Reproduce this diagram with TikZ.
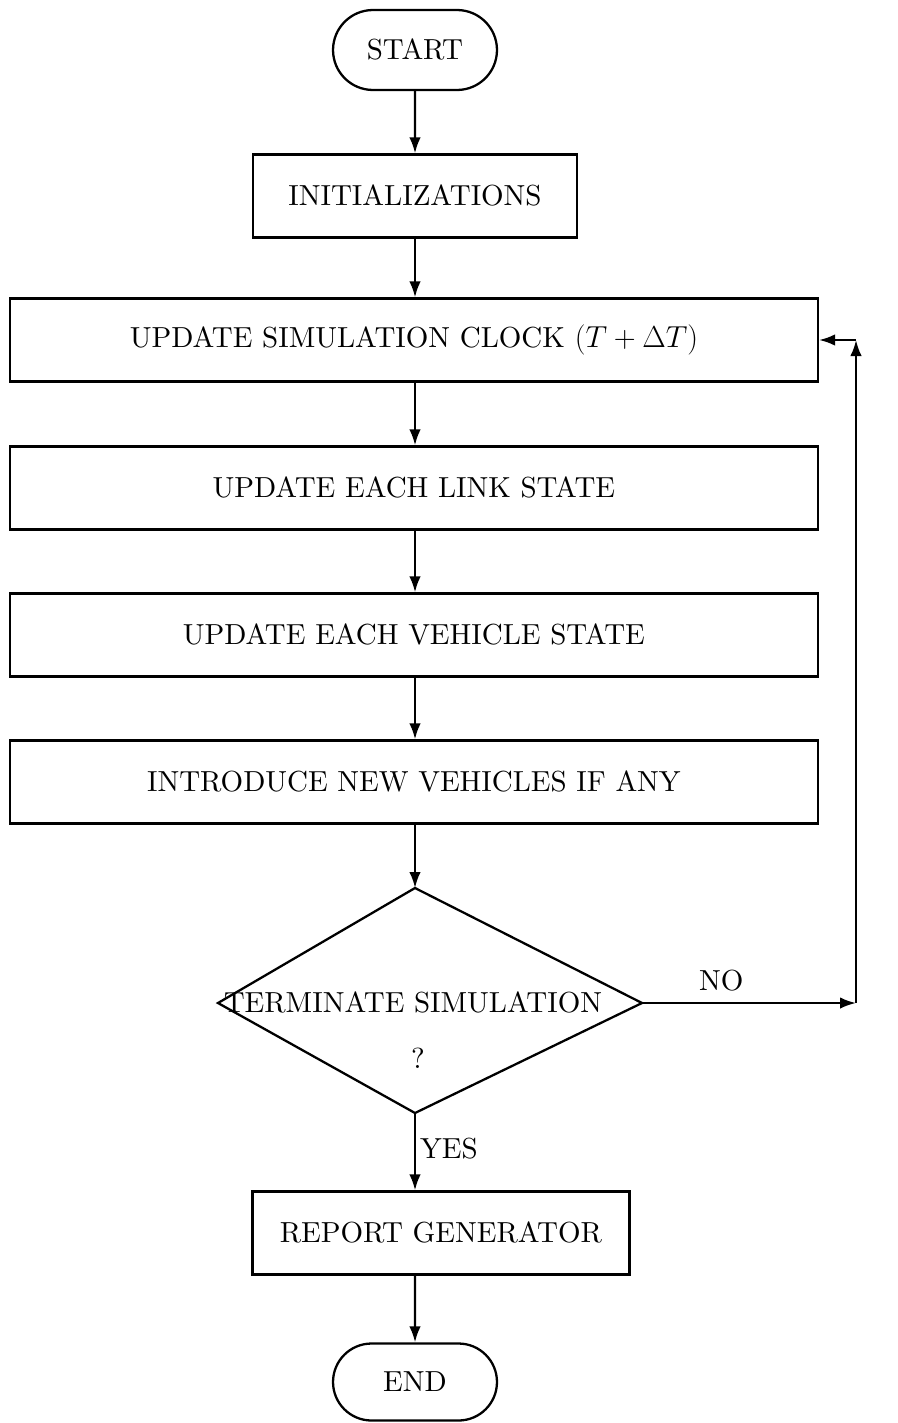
\documentclass[tikz,border=0pt]{standalone}
\usepackage{tikz}
\usetikzlibrary{arrows.meta}
\usetikzlibrary{shapes.misc}

\font\flowrm=cmr10 at 16.5pt

\begin{document}
\begin{tikzpicture}[x=0.02cm,y=-0.02cm,
    font=\fontsize{16.5}{20}\selectfont\flowrm,
    line width=1.3pt,
    flow/.style={-{Latex[length=3.2mm,width=2.3mm]}},
    termbox/.style={draw,line width=1.3pt,rounded rectangle,inner sep=0pt,minimum width=3.28cm,minimum height=1.6cm},
    procbox/.style={draw,line width=1.3pt,rectangle,inner sep=0pt,minimum height=1.66cm}]
    \useasboundingbox (0,0) rectangle (897,1423);
    % blocks of the flow chart
    \node[termbox] (start) at (415,50) {START};
    \node[procbox,minimum width=6.48cm] (init) at (415,196) {INITIALIZATIONS};
    \node[procbox,minimum width=16.16cm] (clock) at (414,340) {UPDATE SIMULATION CLOCK $(T+\Delta T)$};
    \node[procbox,minimum width=16.16cm] (link) at (414,488) {UPDATE EACH LINK STATE};
    \node[procbox,minimum width=16.16cm] (veh) at (414,635) {UPDATE EACH VEHICLE STATE};
    \node[procbox,minimum width=16.16cm] (intro) at (414,782) {INTRODUCE NEW VEHICLES IF ANY};
    % decision (not symmetric, so drawn by its corners)
    \coordinate (dtop) at (415,888);
    \coordinate (dleft) at (218,1003);
    \coordinate (dright) at (642,1003);
    \coordinate (dbot) at (415,1113);
    \draw[line join=miter] (dtop) -- (dright) -- (dbot) -- (dleft) -- cycle;
    \node (termtxt) at (413,1003) {TERMINATE SIMULATION};
    \node (qmark) at (418,1058) {?};
    \node[procbox,minimum width=7.54cm] (report) at (441,1233) {REPORT GENERATOR};
    \node[termbox,minimum height=1.54cm] (end) at (415,1382) {END};
    \coordinate (c1) at (856,1003);
    \coordinate (c2) at (856,340);
    % connections
    \draw[flow] (start) -- (init);
    \draw[flow] (init) -- (init |- clock.north);
    \draw[flow] (clock.south -| init) -- (init |- link.north);
    \draw[flow] (link.south -| init) -- (init |- veh.north);
    \draw[flow] (veh.south -| init) -- (init |- intro.north);
    \draw[flow] (intro.south -| init) -- (dtop);
    \draw[flow] (dbot) -- (dbot |- report.north) node[midway,right,xshift=-1pt,yshift=2pt] {YES};
    \draw[flow] (report.south -| dbot) -- (end);
    \draw[flow] (dright) -- (c1) node[pos=0.37,above,yshift=3pt] {NO};
    \draw[flow] (c1) -- (c2);
    \draw[flow] (c2) -- (clock.east);
\end{tikzpicture}
\end{document}
